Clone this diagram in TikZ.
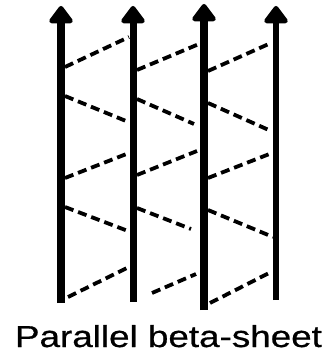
\documentclass[tikz,border=0pt]{standalone}
\usepackage{fontspec}
\setmainfont{Liberation Sans}
\newfontfamily\capfont[FakeBold=0.6]{Liberation Sans}
\usetikzlibrary{arrows.meta}
\begin{document}
\begin{tikzpicture}[x=1pt,y=-1pt,
  strand/.style={-{Triangle[length=19pt,width=27pt,round]}, line cap=butt},
  hbond/.style={line width=3.8pt, dash pattern=on 9pt off 5pt},
  caption/.style={anchor=base, inner sep=0pt, font=\capfont\fontsize{30.3}{36}\selectfont}]
\useasboundingbox (0,0) rectangle (331,352);
% strands
\coordinate (s1b) at (61,303); \coordinate (s1t) at (61,6);
\coordinate (s2b) at (133,302); \coordinate (s2t) at (133,6);
\coordinate (s3b) at (204,310); \coordinate (s3t) at (204,4);
\coordinate (s4b) at (276,300); \coordinate (s4t) at (276,6);
\draw[strand, line width=7.5pt] (s1b) -- (s1t);
\draw[strand, line width=7pt] (s2b) -- (s2t);
\draw[strand, line width=7.5pt] (s3b) -- (s3t);
\draw[strand, line width=6pt] (s4b) -- (s4t);
% hydrogen bonds between strands 1 and 2
\coordinate (a1l) at (65,67);  \coordinate (a1r) at (129,37);
\coordinate (a2l) at (65,96);  \coordinate (a2r) at (126,121);
\coordinate (a3l) at (65,178); \coordinate (a3r) at (129,153);
\coordinate (a4l) at (65,207); \coordinate (a4r) at (128,231);
\coordinate (a5l) at (68,297); \coordinate (a5r) at (129,267);
% strands 2 and 3
\coordinate (b1l) at (137,70);  \coordinate (b1r) at (199,44);
\coordinate (b2l) at (137,99);  \coordinate (b2r) at (194,124);
\coordinate (b3l) at (137,175); \coordinate (b3r) at (197,151);
\coordinate (b4l) at (137,208); \coordinate (b4r) at (191,229);
\coordinate (b5l) at (152,293); \coordinate (b5r) at (196,274);
% strands 3 and 4
\coordinate (c1l) at (208,71);  \coordinate (c1r) at (271,43);
\coordinate (c2l) at (208,103); \coordinate (c2r) at (271,131);
\coordinate (c3l) at (208,178); \coordinate (c3r) at (272,153);
\coordinate (c4l) at (208,210); \coordinate (c4r) at (273,237);
\coordinate (c5l) at (210,303); \coordinate (c5r) at (271,272);
\foreach \p in {a,b,c}{
  \foreach \i in {1,...,5}{
    \draw[hbond] (\p\i l) -- (\p\i r);
  }
}
\node[caption] (cap) at (168.5,347) {\scalebox{1.215}[1]{Parallel beta-sheet}};
\end{tikzpicture}
\end{document}
